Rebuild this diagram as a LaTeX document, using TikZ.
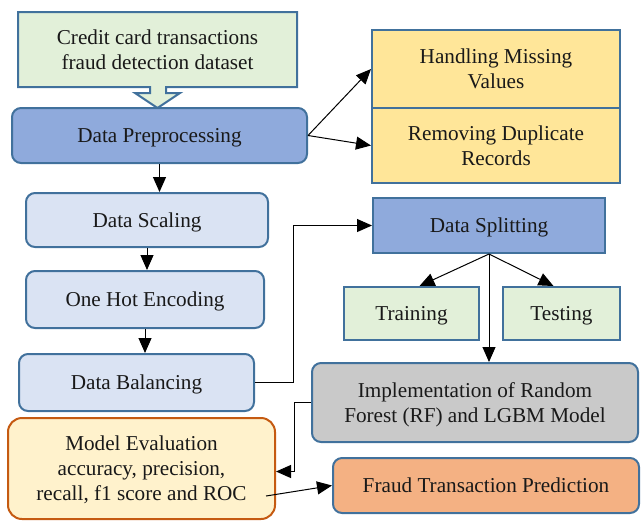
\documentclass[tikz,border=0pt]{standalone}
\usepackage{fontspec}
\setmainfont{Liberation Serif}
\usetikzlibrary{arrows.meta}
\definecolor{bord}{HTML}{41719C}
\definecolor{prepfill}{HTML}{8FAADC}
\definecolor{lblue}{HTML}{DAE3F3}
\definecolor{lgreen}{HTML}{E2F0D9}
\definecolor{yel}{HTML}{FFE699}
\definecolor{gry}{HTML}{C9C9C9}
\definecolor{cream}{HTML}{FFF2CC}
\definecolor{obord}{HTML}{C55A11}
\definecolor{salmon}{HTML}{F4B183}
\tikzset{
  box/.style={draw=bord, line width=1pt, align=center, inner sep=0pt,
    font=\fontsize{10.6}{12.5}\selectfont, text=black!90, text depth=0pt},
  rbox/.style={box, rounded corners=4.5pt},
  conn/.style={line width=0.5pt, -{Triangle[length=7.5pt,width=6.5pt]}},
}
\begin{document}
\begin{tikzpicture}[x=0.5pt,y=-0.5pt]
\useasboundingbox (0,0) rectangle (641,521);
% dataset callout
\draw[draw=bord, fill=lgreen, line width=1pt]
  (18,12) -- (297,12) -- (297,87) -- (166,87) -- (166,93) -- (180,93)
  -- (157.5,108) -- (135,93) -- (150,93) -- (150,87) -- (18,87) -- cycle;
\node[box, draw=none] (data) at (157.5,49.5) {Credit card transactions\\fraud detection dataset};
% nodes
\node[rbox, fill=prepfill, minimum width=147.5pt, minimum height=27.5pt] (prep) at (159.5,135.5) {Data Preprocessing};
\node[box, fill=yel, minimum width=124pt, minimum height=39pt] (hmv) at (496,69) {Handling Missing\\Values};
\node[box, fill=yel, minimum width=124pt, minimum height=37.5pt] (rdr) at (496,145.5) {Removing Duplicate\\Records};
\node[rbox, fill=lblue, minimum width=121pt, minimum height=27pt] (scal) at (147,220) {Data Scaling};
\node[rbox, fill=lblue, minimum width=119pt, minimum height=28.5pt] (ohe) at (145,299.5) {One Hot Encoding};
\node[rbox, fill=lblue, minimum width=117.5pt, minimum height=28.5pt] (bal) at (136.5,382.5) {Data Balancing};
\node[box, fill=prepfill, minimum width=116pt, minimum height=27.5pt] (split) at (489,225.5) {Data Splitting};
\node[box, fill=lgreen, minimum width=67.5pt, minimum height=26.5pt] (train) at (411.5,313.5) {Training};
\node[box, fill=lgreen, minimum width=58.5pt, minimum height=26.5pt] (test) at (561.5,313.5) {Testing};
\node[rbox, fill=gry, minimum width=163pt, minimum height=39.5pt] (impl) at (475,402.5) {Implementation of Random\\Forest (RF) and LGBM Model};
\node[rbox, draw=obord, fill=cream, minimum width=133.5pt, minimum height=50.5pt, rounded corners=7pt] (eval) at (141.5,468.5) {Model Evaluation\\accuracy, precision,\\recall, f1 score and ROC};
\node[rbox, fill=salmon, minimum width=153pt, minimum height=27.5pt] (fraud) at (486,485.5) {Fraud Transaction Prediction};
% connectors
\draw[conn] (prep.south) -- (prep.south |- scal.north);
\draw[conn] (scal.south) -- (scal.south |- ohe.north);
\draw[conn] (ohe.south) -- (ohe.south |- bal.north);
\draw[conn] (prep.east) -- (hmv.west);
\draw[conn] (prep.east) -- (rdr.west);
\draw[conn] (bal.east) -- (293,382.5) |- (split.west);
\draw[conn] (split.south) -- ([xshift=4pt]train.north);
\draw[conn] (split.south) -- ([xshift=-4pt]test.north);
\draw[conn] (split.south) -- (split.south |- impl.north);
\draw[conn] (impl.west) -- (294,402.5) |- ([yshift=-1.5pt]eval.east);
\draw[conn] ([xshift=-5pt,yshift=-13.75pt]eval.east) -- (fraud.west);
\end{tikzpicture}
\end{document}
